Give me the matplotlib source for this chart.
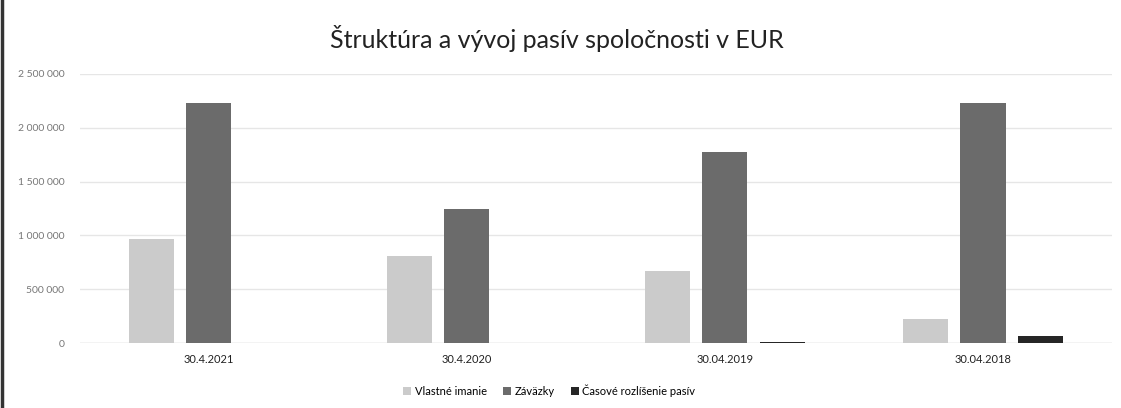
import numpy as np
import matplotlib.pyplot as plt
from matplotlib.ticker import FuncFormatter

# Values (EUR)
dates = ["30.4.2021", "30.4.2020", "30.04.2019", "30.04.2018"]
vlastne_imanie = [966000, 808000, 669000, 223000]
zavazky = [2230000, 1245000, 1775000, 2230000]
casove_rozlisenie = [0, 0, 15000, 65000]

series_names = ["Vlastné imanie", "Záväzky", "Časové rozlíšenie pasív"]
colors = ["#cbcbcb", "#6b6b6b", "#262626"]

plt.rcParams['font.family'] = ['Lato', 'DejaVu Sans']

fig = plt.figure(figsize=(11.21, 4.08), dpi=100)
ax = fig.add_axes([0.071, 0.159, 0.921, 0.66])

x = np.arange(len(dates))
width = 0.175
step = 0.222
for i, (vals, name, col) in enumerate(zip([vlastne_imanie, zavazky, casove_rozlisenie],
                                          series_names, colors)):
    ax.bar(x + (i - 1) * step, vals, width, color=col, label=name, zorder=3)

ax.set_xlim(-0.5, len(dates) - 0.5)
ax.set_ylim(0, 2500000)
ax.set_yticks(np.arange(0, 2500001, 500000))
ax.yaxis.set_major_formatter(FuncFormatter(lambda v, p: f"{int(v):,}".replace(",", " ")))
ax.set_xticks(x)
ax.set_xticklabels(dates)
ax.tick_params(axis='y', length=0, labelsize=7.5, labelcolor="#777777", pad=11)
ax.tick_params(axis='x', length=0, labelsize=8, labelcolor="#222222", pad=8)
ax.grid(axis='y', color="#e6e6e6", linewidth=1, zorder=0)
for s in ax.spines.values():
    s.set_visible(False)
ax.axhline(0, color="#d9d9d9", linewidth=1, zorder=2)

fig.text(0.497, 0.905, "Štruktúra a vývoj pasív spoločnosti v EUR", ha='center', va='center',
         fontsize=18, color="#222222")

fig.legend(loc='center', bbox_to_anchor=(0.49, 0.043), ncol=3, frameon=False, fontsize=8,
           handlelength=0.7, handleheight=0.7, handletextpad=0.3, columnspacing=1.5)

# dark scan edge on the left
fig.add_artist(plt.Line2D([0.0015, 0.0015], [0, 1], color="#333333", linewidth=2.5,
                          transform=fig.transFigure))

plt.savefig("out.png", dpi=100)
